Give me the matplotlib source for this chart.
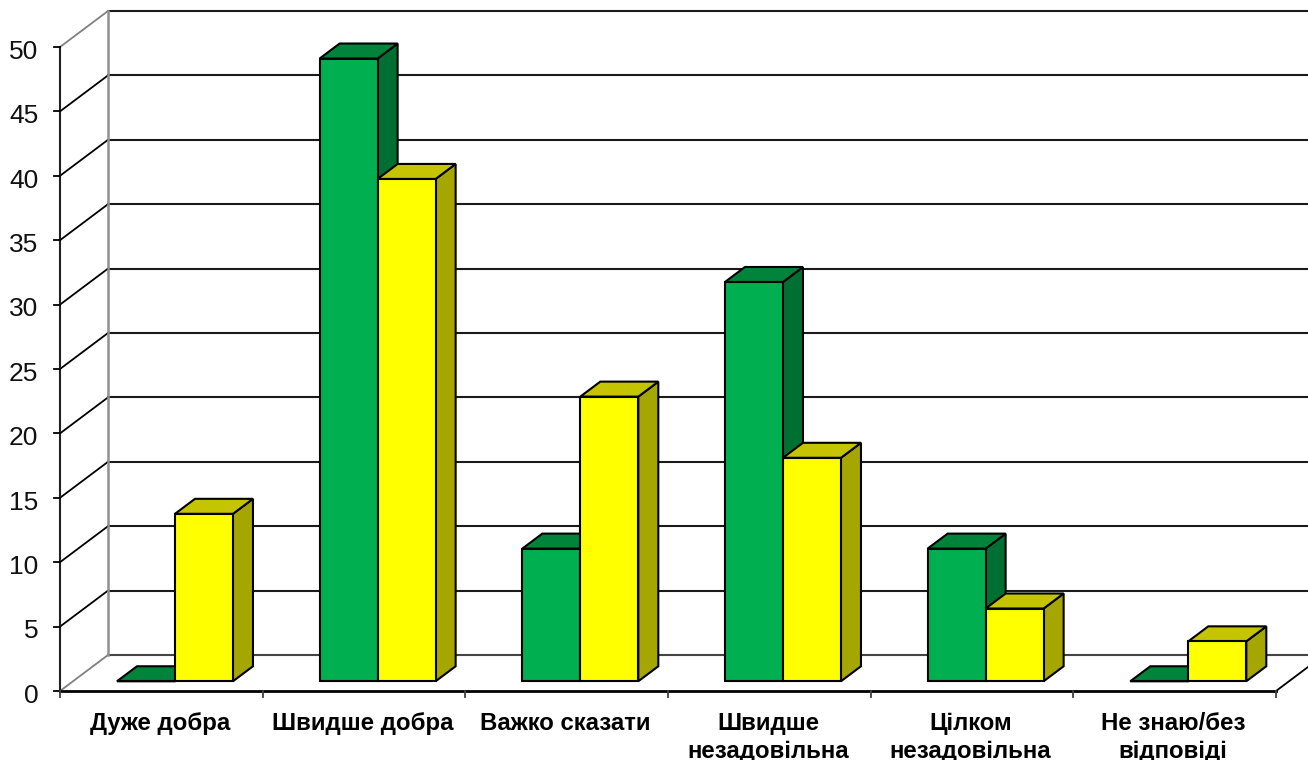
#!/usr/bin/env python3
# -*- coding: utf-8 -*-

import matplotlib
matplotlib.use("Agg")
import matplotlib.pyplot as plt
from matplotlib.patches import Polygon

categories = ["Дуже добра", "Швидше добра", "Важко сказати",
              "Швидше\nнезадовільна", "Цілком\nнезадовільна", "Не знаю/без\nвідповіді"]
green_values = [0, 48.35, 10.3, 31, 10.3, 0]
yellow_values = [13, 39, 22.1, 17.35, 5.65, 3.1]
y_ticks = [0, 5, 10, 15, 20, 25, 30, 35, 40, 45, 50]

# depth of the fake 3d box, in axis units
CAT_PX = 202.67
DX = 48 / CAT_PX
DY = 36 / 12.88
BAR_W = 58 / CAT_PX
GAP = 44 / CAT_PX
D_FRONT = 0.27
D_BACK = 0.687

GREEN = ("#00b050", "#00843c", "#006f32")
YELLOW = ("#ffff00", "#c4c400", "#a6a600")


def project(x, y, d):
    return x + d * DX, y + d * DY


def draw_box(ax, x, value, colors, z):
    front, top, side = colors
    x0, x1 = x, x + BAR_W
    f = [project(x0, 0, D_FRONT), project(x1, 0, D_FRONT),
         project(x1, value, D_FRONT), project(x0, value, D_FRONT)]
    t = [project(x0, value, D_FRONT), project(x1, value, D_FRONT),
         project(x1, value, D_BACK), project(x0, value, D_BACK)]
    s = [project(x1, 0, D_FRONT), project(x1, 0, D_BACK),
         project(x1, value, D_BACK), project(x1, value, D_FRONT)]
    for pts, c in ((s, side), (t, top), (f, front)):
        ax.add_patch(Polygon(pts, closed=True, facecolor=c, edgecolor="black",
                             linewidth=1.5, joinstyle="miter", zorder=z, clip_on=False))


def main():
    plt.rcParams['font.family'] = ['Liberation Sans', 'DejaVu Sans']
    fig = plt.figure(figsize=(13.08, 7.6), dpi=100)
    ax = fig.add_axes([60 / 1308, 1 - 691 / 760, 1216 / 1308, 644 / 760])
    ax.set_xlim(0, 6)
    ax.set_ylim(0, 50)
    ax.axis("off")

    # walls and grid
    far = 6 + 60 / CAT_PX
    for v in y_ticks:
        grid_c = "#444444" if v == 0 else "#1a1a1a"
        ax.plot([DX, far], [v + DY, v + DY], color=grid_c, lw=1.5, zorder=1, clip_on=False)
        side_c = "#808080" if v in (0, 50) else "black"
        ax.plot([0, DX], [v, v + DY], color=side_c, lw=1.3, zorder=1, clip_on=False)
    ax.plot([DX, DX], [DY, 50 + DY], color="#909090", lw=1.8, zorder=2, clip_on=False)

    # floor edge on the right
    ax.plot([6, far], [0, (far - 6) / DX * DY], color="black", lw=1.3, zorder=1, clip_on=False)

    # front axes
    ax.plot([0, 0], [0, 50], color="#202020", lw=1.5, zorder=3, clip_on=False)
    ax.plot([0, 6], [0, 0], color="black", lw=2, zorder=3, clip_on=False)
    for v in y_ticks:
        ax.plot([-6 / CAT_PX, 0], [v, v], color="black", lw=1.3, zorder=3, clip_on=False)
        ax.annotate(str(v), xy=(0, v), xytext=(-15.5, -3.5), textcoords="offset points",
                    ha="right", va="center", fontsize=19, color="#111111")
    for i in range(7):
        ax.plot([i, i], [0, -6 / 12.88], color="#404040", lw=1.3, zorder=3, clip_on=False)

    # bars
    for i, name in enumerate(categories):
        x = i + GAP
        draw_box(ax, x, green_values[i], GREEN, 10 + 2 * i)
        draw_box(ax, x + BAR_W, yellow_values[i], YELLOW, 11 + 2 * i)
        ax.annotate(name, xy=(i + 0.5, 0), xytext=(-1, -15), textcoords="offset points",
                    ha="center", va="top", fontsize=17.3, fontweight="bold",
                    linespacing=1.26, color="black", annotation_clip=False)

    fig.savefig("out.png", dpi=100, facecolor="white")


if __name__ == "__main__":
    main()
